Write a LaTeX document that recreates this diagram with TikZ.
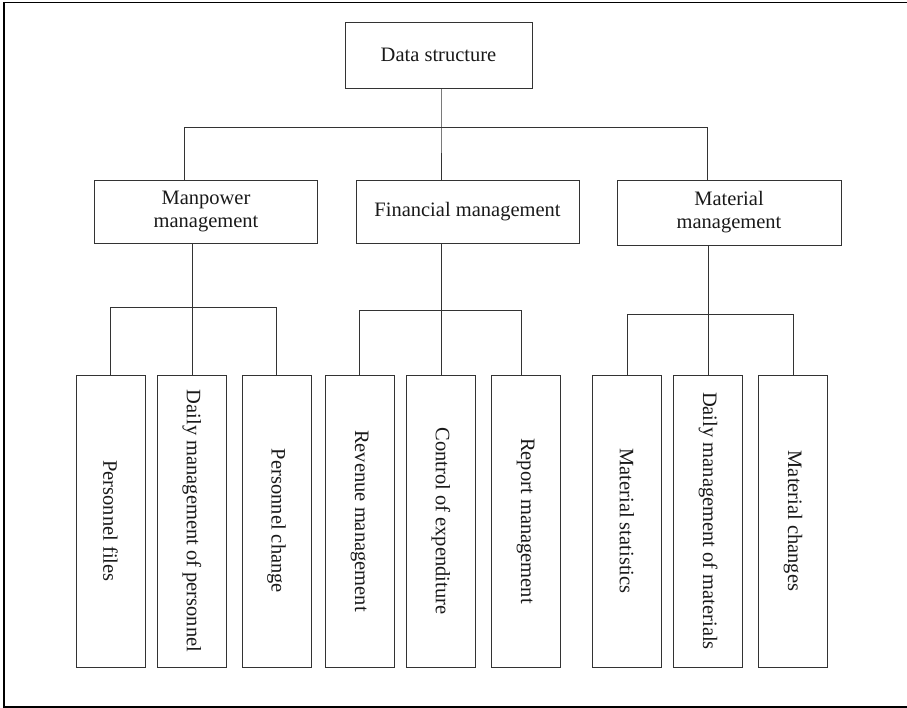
\documentclass[tikz,border=0pt]{standalone}
\usepackage{fontspec}
\usepackage{graphicx}
\setmainfont{Liberation Serif}
\begin{document}
\begin{tikzpicture}[x=1pt,y=-1pt,
  box/.style={draw=black!80, line width=0.8pt, inner sep=0pt, align=center,
    text=black!90, font=\fontsize{20.5}{23}\selectfont},
  leaf/.style={box, minimum width=69pt, minimum height=292pt},
  conn/.style={draw=black!80, line width=0.8pt}]
\useasboundingbox (0,0) rectangle (907,708);
\draw[line width=1.3pt] (907,2.5) -- (4,2.5) -- (4,707) -- (907,707);
% top
\node[box, minimum width=187pt, minimum height=66pt] (top) at (438.5,55) {Data structure};
% second level
\node[box, minimum width=223pt, minimum height=63pt] (man) at (206,211.5) {Manpower\\management};
\node[box, minimum width=223pt, minimum height=63pt] (fin) at (467.5,211.5) {Financial management};
\node[box, minimum width=224pt, minimum height=65pt] (mat) at (729,212.5) {Material\\management};
% leaves
\node[leaf] (l1) at (110.5,521) {\rotatebox{-90}{Personnel files}};
\node[leaf] (l2) at (192,521) {\rotatebox{-90}{Daily management of personnel}};
\node[leaf] (l3) at (276.5,521) {\rotatebox{-90}{Personnel change}};
\node[leaf] (l4) at (359.5,521) {\rotatebox{-90}{Revenue management}};
\node[leaf] (l5) at (441,521) {\rotatebox{-90}{Control of expenditure}};
\node[leaf] (l6) at (525.5,521) {\rotatebox{-90}{Report management}};
\node[leaf] (l7) at (627,521) {\rotatebox{-90}{Material statistics}};
\node[leaf] (l8) at (708,521) {\rotatebox{-90}{Daily management of materials}};
\node[leaf] (l9) at (793,521) {\rotatebox{-90}{Material changes}};
% bus coordinates
\coordinate (spine) at (441,127);
\coordinate (bl) at (184,127);
\coordinate (br) at (707,127);
\coordinate (mbar) at (0,307.7);
\coordinate (fbar) at (0,310.7);
\coordinate (f6) at (521.7,310.7);
\coordinate (tbar) at (0,314.3);
% top connectors
\draw[conn] (top.south -| spine) -- (spine) -- (fin.north -| spine);
\draw[conn] (man.north -| bl) -- (bl) -- (br) -- (mat.north -| br);
% manpower
\draw[conn] (man.south -| l2.north) -- (l2.north);
\draw[conn] (l1.north) -- (l1.north |- mbar) -- (l3.north |- mbar) -- (l3.north);
% financial
\draw[conn] (fin.south -| l5.north) -- (l5.north);
\draw[conn] (l4.north) -- (l4.north |- fbar) -- (f6) -- (f6 |- l6.north);
% material
\draw[conn] (mat.south -| l8.north) -- (l8.north);
\draw[conn] (l7.north) -- (l7.north |- tbar) -- (l9.north |- tbar) -- (l9.north);
\end{tikzpicture}
\end{document}
